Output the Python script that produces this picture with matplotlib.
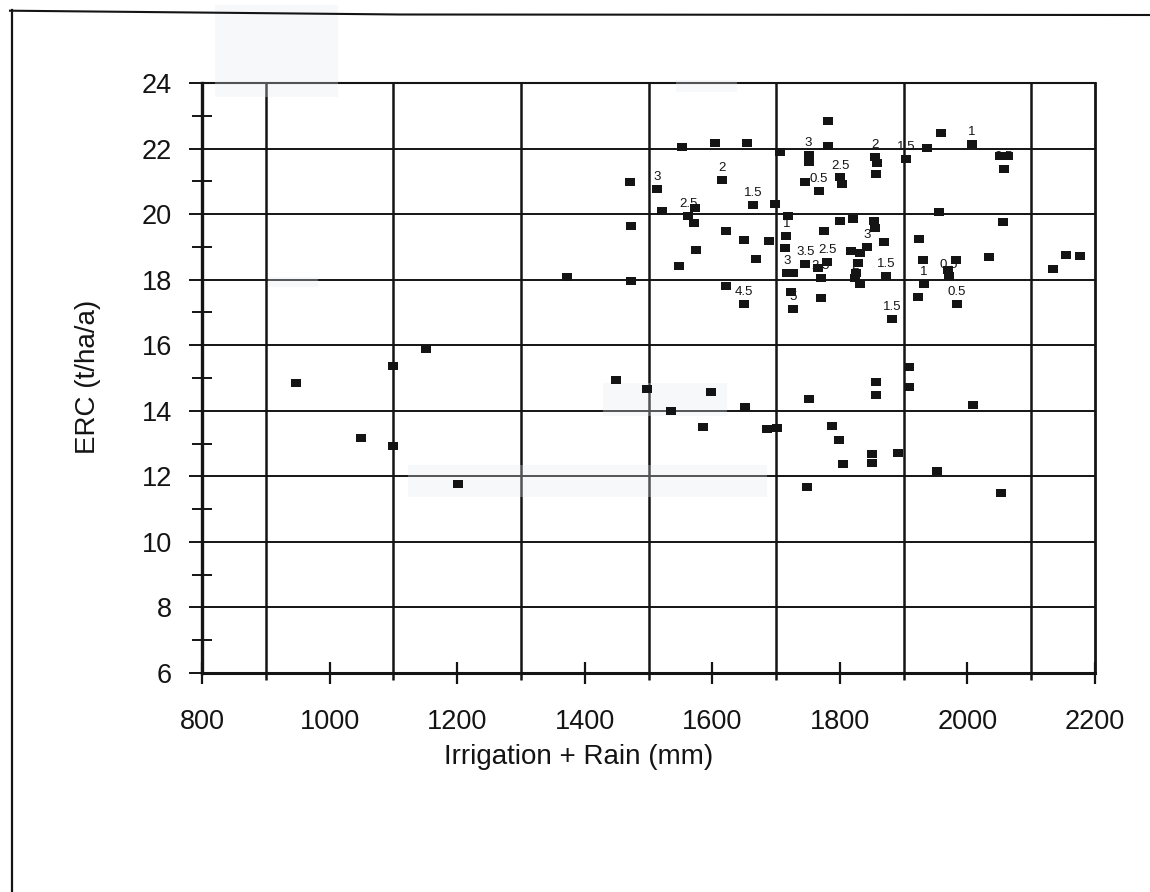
import matplotlib
matplotlib.use("Agg")
import matplotlib.pyplot as plt
from matplotlib.lines import Line2D
from matplotlib.patches import Rectangle
from matplotlib.ticker import FixedLocator

plt.rcParams['font.family'] = ['Liberation Sans', 'DejaVu Sans']

# Irrigation + rain (mm) for each block
irr_rain = [
    948, 1049, 1099, 1099, 1151, 1202, 1372,
    1449, 1498, 1535, 1585, 1598, 1651, 1685, 1701, 1748, 1752, 1788, 1799,
    1805, 1850, 1850, 1856, 1856, 1891, 1908, 1908, 1953, 2008, 2053,
    1553, 1604, 1655, 1706, 1751, 1751, 1781, 1782, 1855, 1858, 1856, 1801,
    1804, 1745, 1767, 1471, 1514, 1521, 1616, 1573, 1562, 1572, 1664, 1699,
    1719, 1716, 1472, 1622, 1650, 1689, 1714, 1574, 1548, 1669, 1775, 1800,
    1821, 1854, 1855, 1842, 1869, 1818, 1831, 1746, 1766, 1780, 1717, 1726,
    1770, 1829, 1826, 1823, 1831, 1873, 1472, 1622, 1650, 1723, 1726, 1771,
    1882,
    1958, 2007, 1937, 1904, 2051, 2064, 2057, 1955, 2056, 1924, 1931, 1982,
    1970, 1971, 1932, 1923, 1983, 2034, 2155, 2176, 2134,
]

# ERC (t/ha/a) for each block
erc = [
    14.85, 13.18, 15.36, 12.94, 15.87, 11.76, 18.09,
    14.95, 14.67, 14.00, 13.51, 14.57, 14.11, 13.43, 13.48, 11.66, 14.37, 13.54, 13.11,
    12.39, 12.67, 12.42, 14.88, 14.49, 12.72, 15.33, 14.73, 12.16, 14.19, 11.50,
    22.04, 22.18, 22.16, 21.88, 21.80, 21.60, 22.84, 22.08, 21.74, 21.57, 21.22, 21.12,
    20.92, 20.98, 20.72, 20.99, 20.77, 20.10, 21.05, 20.18, 19.95, 19.74, 20.28, 20.31,
    19.95, 19.34, 19.64, 19.49, 19.22, 19.17, 18.98, 18.89, 18.43, 18.64, 19.49, 19.78,
    19.85, 19.78, 19.58, 18.99, 19.14, 18.86, 18.82, 18.48, 18.35, 18.54, 18.20, 18.20,
    18.05, 18.51, 18.20, 18.05, 17.87, 18.12, 17.97, 17.82, 17.27, 17.61, 17.10, 17.44,
    16.80,
    22.47, 22.13, 22.01, 21.68, 21.76, 21.76, 21.38, 20.06, 19.76, 19.25, 18.60, 18.59,
    18.30, 18.10, 17.88, 17.47, 17.25, 18.68, 18.74, 18.71, 18.32,
]

# Small annotations written above individual blocks
tag_x = [1514, 1616, 1562, 1664, 1751, 1855, 1801, 1767, 1716, 1746, 1780, 1770,
         1717, 1842, 1823, 1873, 1650, 1726, 1882, 1904, 2007, 2057, 1932, 1983, 1971]
tag_y = [20.77, 21.05, 19.95, 20.28, 21.80, 21.74, 21.12, 20.72, 19.34, 18.48, 18.54, 18.05,
         18.20, 18.99, 18.05, 18.12, 17.27, 17.10, 16.80, 21.68, 22.13, 21.38, 17.88, 17.25, 18.10]
tag_text = ["3", "2", "2.5", "1.5", "3", "2", "2.5", "0.5", "1", "3.5", "2.5", "2.5",
            "3", "3", "2", "1.5", "4.5", "5", "1.5", "1.5", "1", "0.5", "1", "0.5", "0.5"]

x_ticks = [800, 1000, 1200, 1400, 1600, 1800, 2000, 2200]
x_grid = [900, 1100, 1300, 1500, 1700, 1900, 2100]
y_ticks = [6, 8, 10, 12, 14, 16, 18, 20, 22, 24]
y_minor = [7, 9, 11, 13, 15, 17, 19, 21, 23]

W, H = 1150, 892
ink = '#141414'

fig = plt.figure(figsize=(W / 100, H / 100), dpi=100)
ax = fig.add_axes([202 / W, 1 - 673 / H, 893 / W, 590 / H])
ax.set_xlim(800, 2200)
ax.set_ylim(6, 24)

ax.xaxis.set_major_locator(FixedLocator(x_ticks))
ax.xaxis.set_minor_locator(FixedLocator(x_grid))
ax.yaxis.set_major_locator(FixedLocator(y_ticks))
ax.yaxis.set_minor_locator(FixedLocator(y_minor))

ax.grid(which='minor', axis='x', color=ink, lw=1.8)
ax.grid(which='major', axis='y', color=ink, lw=1.4)
ax.grid(which='major', axis='x', visible=False)

ax.tick_params(axis='x', which='major', direction='inout', length=16, width=1.6,
               pad=18, labelsize=19.5, color=ink, labelcolor=ink)
ax.tick_params(axis='x', which='minor', direction='out', length=5, width=1.8, color=ink)
ax.tick_params(axis='y', which='major', direction='out', length=9.5, width=1.4,
               pad=12, labelsize=19.5, color=ink, labelcolor=ink)
ax.tick_params(axis='y', which='minor', direction='inout', length=14.5, width=1.4, color=ink)

for side, lw in (('left', 2.4), ('bottom', 2.2), ('top', 1.5), ('right', 2.0)):
    ax.spines[side].set_linewidth(lw)
    ax.spines[side].set_color(ink)

rect = [(-1, -0.72), (1, -0.72), (1, 0.72), (-1, 0.72)]
ax.scatter(irr_rain, erc, marker=rect, s=55, c=ink, linewidths=0, zorder=3, clip_on=False)

for tx, ty, t in zip(tag_x, tag_y, tag_text):
    ax.annotate(t, (tx, ty), xytext=(0, 8.5), textcoords='offset points',
                ha='center', va='center', fontsize=9.5, color=ink, zorder=4)

ax.set_xlabel("Irrigation + Rain (mm)", fontsize=20, color=ink)
ax.xaxis.label.set_va('center')
ax.xaxis.set_label_coords((579 - 202) / 893, (673 - 757) / 590)
ax.set_ylabel("ERC (t/ha/a)", fontsize=20, color=ink)
ax.yaxis.label.set_va('center')
ax.yaxis.label.set_ha('center')
ax.yaxis.set_label_coords((87.5 - 202) / 893, (673 - 377) / 590)

# page frame around the chart
fig.add_artist(Line2D([10 / W, 400 / W, 1150 / W], [1 - 10.7 / H, 1 - 14.5 / H, 1 - 15 / H],
                      transform=fig.transFigure, color=ink, lw=1.5))
fig.add_artist(Line2D([12 / W, 12 / W], [1 - 10 / H, 0],
                      transform=fig.transFigure, color=ink, lw=1.6))

# faint tinted strips on the sheet, lying over the grid but under the blocks
for x0, y0, x1, y1 in [(215, 5, 338, 97), (676, 80, 737, 92), (268, 277, 318, 287),
                       (603, 383, 727, 416), (408, 465, 767, 497)]:
    ax.add_patch(Rectangle((x0 / W, 1 - y1 / H), (x1 - x0) / W, (y1 - y0) / H,
                           transform=fig.transFigure, facecolor='#e2e8ef', alpha=0.3,
                           edgecolor='none', zorder=2.6, clip_on=False))

fig.savefig("out.png", dpi=100)
